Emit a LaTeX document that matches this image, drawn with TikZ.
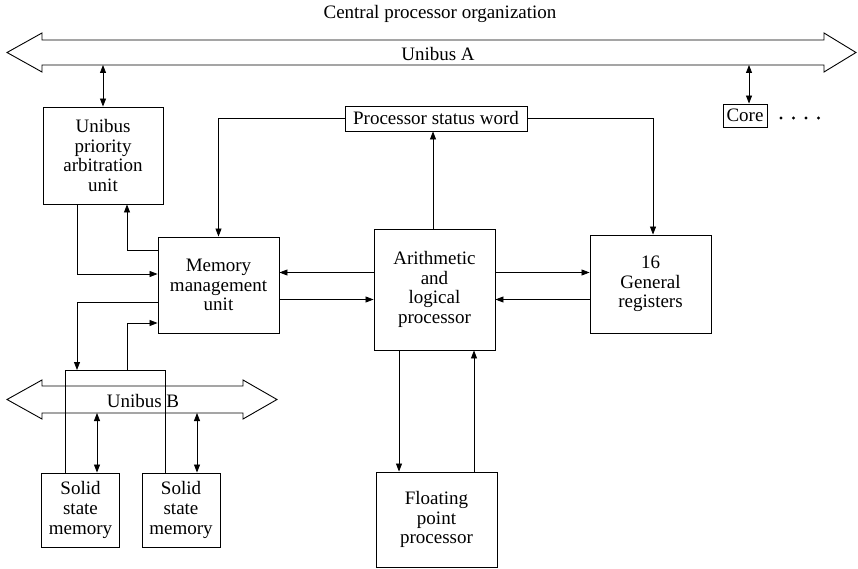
\documentclass[tikz,border=0pt]{standalone}
\usepackage{fontspec}
\setmainfont{Liberation Serif}
\usetikzlibrary{arrows.meta}
\newcommand\bodyfont{\fontsize{19}{19.7}\selectfont}
\begin{document}
\begin{tikzpicture}[x=1pt,y=-1pt,
  line width=0.8pt,
  box/.style={draw, line width=0.9pt, align=center, inner sep=0pt, font=\bodyfont},
  lbl/.style={inner sep=0pt, font=\bodyfont},
  arr/.style={-{Triangle[length=8pt,width=6pt]}},
  darr/.style={{Triangle[length=8pt,width=6pt]}-{Triangle[length=8pt,width=6pt]}},
  bus/.style={draw, line width=0.9pt, line join=miter},
  thinline/.style={line width=0.6pt}
]
\useasboundingbox (0,0) rectangle (858,569);

% title
\node[lbl] (title) at (440,14) {Central processor organization};

% Unibus A
\draw[bus] (7,52.5) -- (42,33) -- (42,40) -- (824,40) -- (824,33) -- (856,52.5)
  -- (824,72) -- (824,65) -- (42,65) -- (42,72) -- cycle;
\node[lbl] (busAlbl) at (438,54) {Unibus A};
\coordinate (busAbot) at (0,65);

% Unibus B
\draw[bus] (7,399.5) -- (42,380) -- (42,386) -- (243,386) -- (243,380) -- (277,399.5)
  -- (243,419) -- (243,413) -- (42,413) -- (42,419) -- cycle;
\node[lbl] (busBlbl) at (143,401) {Unibus B};
\coordinate (busBbot) at (0,413);

% boxes
\node[box, minimum width=120pt, minimum height=97pt] (upau) at (103,155.5) {Unibus\\priority\\arbitration\\unit};
\node[box, minimum width=182pt, minimum height=25pt] (psw) at (436,118.5) {Processor status word};
\node[box, minimum width=44pt, minimum height=23pt] (core) at (745,115.5) {Core};
\node[box, minimum width=121pt, minimum height=96pt] (mmu) at (218.5,285) {Memory\\management\\unit};
\node[box, minimum width=121pt, minimum height=121pt] (alu) at (434.5,289.5) {Arithmetic\\and\\logical\\processor};
\node[box, minimum width=121pt, minimum height=98pt] (gr) at (650.5,284) {16\\General\\registers};
\node[box, minimum width=121pt, minimum height=95pt] (fpp) at (436.5,519.5) {Floating\\point\\processor};
\node[box, minimum width=78pt, minimum height=74pt] (mem1) at (80.5,510) {Solid\\state\\memory};
\node[box, minimum width=78pt, minimum height=74pt] (mem2) at (181,510) {Solid\\state\\memory};

% dots after Core
\foreach \i in {0,1,2,3} \fill (781+12.5*\i,118) circle (1.7pt);

% bus connections
\draw[darr] (upau.north) -- (upau.north |- busAbot);
\draw[darr] ([xshift=4pt]core.north) -- ([xshift=4pt]core.north |- busAbot);
\draw[darr] ([xshift=16.5pt]mem1.north) -- ([xshift=16.5pt]mem1.north |- busBbot);
\draw[darr] ([xshift=16pt]mem2.north) -- ([xshift=16pt]mem2.north |- busBbot);

% processor status word
\draw[arr] (psw.west) -| (mmu.north);
\draw[arr] (psw.east) -| ([xshift=2.5pt]gr.north);
\draw[arr] ([xshift=-1.5pt]alu.north) -- ([xshift=-1.5pt]alu.north |- psw.south);

% rows between MMU, ALU, GR
\coordinate (rowA) at (0,272.5);
\coordinate (rowB) at (0,299.5);
\draw[arr] (alu.east |- rowA) -- (gr.west |- rowA);
\draw[arr] (gr.west |- rowB) -- (alu.east |- rowB);
\draw[arr] (alu.west |- rowA) -- (mmu.east |- rowA);
\draw[arr] (mmu.east |- rowB) -- (alu.west |- rowB);

% ALU <-> FPP
\coordinate (colA) at (399,0);
\coordinate (colB) at (474,0);
\draw[arr] (alu.south -| colA) -- (fpp.north -| colA);
\draw[arr] (fpp.north -| colB) -- (alu.south -| colB);

% UPAU <-> MMU
\coordinate (k1) at (77,274);
\coordinate (k2) at (127,250);
\draw[arr] (upau.south -| k1) -- (k1) -- (k1 -| mmu.west);
\draw[arr] (k2 -| mmu.west) -- (k2) -- (k2 |- upau.south);

% MMU <-> memory side
\coordinate (rtl) at (65,370);
\coordinate (rtr) at (165,370);
\coordinate (k3) at (77,302);
\coordinate (k4) at (127,323);
\draw[thinline] (mem1.north -| rtl) -- (rtl) -- (rtr) -- (mem2.north -| rtr);
\draw[arr] (k3 -| mmu.west) -- (k3) -- (k3 |- rtl);
\draw[arr] (k4 |- rtl) -- (k4) -- (k4 -| mmu.west);
\end{tikzpicture}
\end{document}
